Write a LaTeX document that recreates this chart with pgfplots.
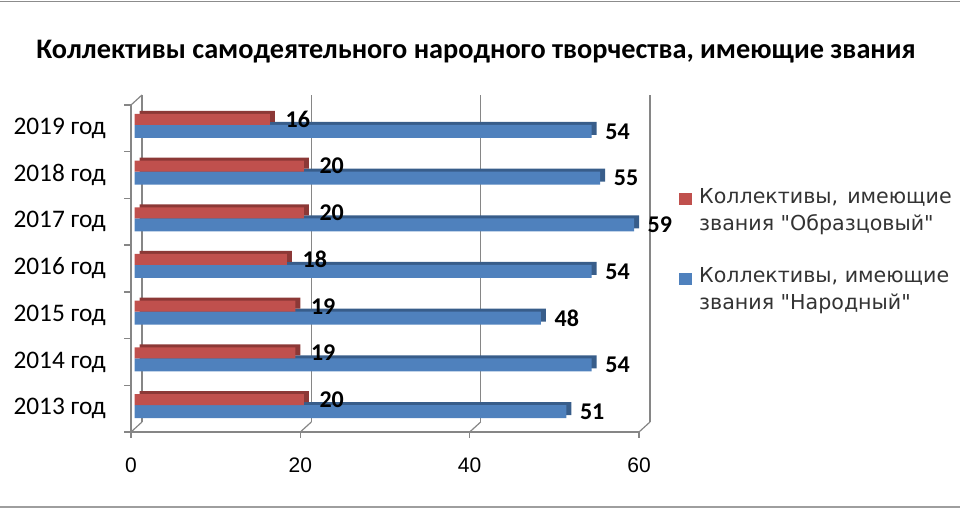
\documentclass[border=0pt]{standalone}
\usepackage{pgfplots}
\pgfplotsset{compat=1.18}
\usepackage{pgfplotstable}
\usepackage{fontspec}
\setmainfont{Carlito}
\newfontfamily\lib{Liberation Sans}
\newfontfamily\dej{DejaVu Sans}
\definecolor{myred}{HTML}{C0504D}
\definecolor{myblue}{HTML}{4F81BD}
\definecolor{myreddark}{HTML}{8C3836}
\definecolor{mybluedark}{HTML}{385D8A}
\definecolor{axgray}{HTML}{868686}

\pgfplotstableread{
y red blue
0 20 51
1 19 54
2 19 48
3 18 54
4 20 59
5 20 55
6 16 54
}\data

\begin{document}
\begin{tikzpicture}[x=1pt,y=1pt]
\useasboundingbox (0,0) rectangle (960,510);
\draw[color=black!45, line width=1.2pt] (0,508.5) -- (960,508.5);
\draw[color=black!38, line width=2.5pt] (0,3) -- (960,3);
\node[font=\fontsize{28.3}{32}\selectfont\bfseries, anchor=base] at (476,451) {Коллективы самодеятельного народного творчества, имеющие звания};
\begin{axis}[
  at={(131pt,78pt)}, anchor=south west,
  scale only axis, width=508pt, height=327pt,
  xmin=0, xmax=60, ymin=-0.5, ymax=6.5,
  xbar, clip=false,
  /pgf/number format/assume math mode=true,
  axis lines*=left,
  axis line style={axgray, line width=1.3pt, -},
  xtick={0,20,40,60},
  ytick={0,...,6},
  yticklabels={2013 год,2014 год,2015 год,2016 год,2017 год,2018 год,2019 год},
  minor ytick={-0.5,0.5,...,6.5},
  tick align=outside,
  major tick length=6pt, minor tick length=7pt,
  tick style={axgray, line width=1.3pt},
  major y tick style={draw=none},
  xmajorgrids,
  major x grid style={axgray, line width=1.2pt, xshift=11pt, yshift=10pt},
  xticklabel style={font=\lib\fontsize{21}{25}\selectfont, inner sep=0pt, yshift=-20pt},
  yticklabel style={font=\fontsize{25.3}{28}\selectfont, inner sep=0pt, xshift=-19pt},
  point meta=x,
  legend style={at={(1,1)}, anchor=north west, xshift=40pt, yshift=-81pt,
    draw=none, fill=none, inner sep=0pt,
    font=\dej\fontsize{20.6}{27}\selectfont, text=black!80,
    cells={anchor=west, align=left}, row sep=32pt, column sep=5pt},
  legend cell align=left,
  reverse legend,
]
% shadows (3D depth)
\addplot[forget plot, draw=none, fill=mybluedark, bar width=13pt, bar shift=-3pt, xshift=8.5pt, yshift=3pt] table[x=blue,y=y]{\data};
\addplot[draw=none, fill=myblue, bar width=13pt, bar shift=-3pt, xshift=3.5pt,
  legend image code/.code={\path[draw=none,fill=none] (0pt,-20pt) -- (0pt,20pt); \fill[myblue] (0pt,4.5pt) rectangle (13pt,16.5pt);},
  nodes near coords, every node near coord/.append style={font=\bfseries\fontsize{24}{28}\selectfont, text=black, inner sep=0pt, anchor=west, xshift=13.5pt}] table[x=blue,y=y]{\data};
\addplot[forget plot, draw=none, fill=myreddark, bar width=11pt, bar shift=9pt, xshift=8.5pt, yshift=3pt] table[x=red,y=y]{\data};
\addplot[draw=none, fill=myred, bar width=11pt, bar shift=9pt, xshift=3.5pt,
  legend image code/.code={\path[draw=none,fill=none] (0pt,-20pt) -- (0pt,20pt); \fill[myred] (0pt,4.5pt) rectangle (13pt,16.5pt);},
  nodes near coords, every node near coord/.append style={font=\bfseries\fontsize{24}{28}\selectfont, text=black, inner sep=0pt, anchor=west, xshift=15.5pt}] table[x=red,y=y]{\data};
\legend{{Коллективы, имеющие\\звания "Народный"},{Коллективы,\hspace{2.5pt} имеющие\\звания "Образцовый"}}
\draw[axgray, line width=1.2pt] (axis cs:0,-0.5) -- ++(11pt,10pt);
\draw[axgray, line width=1.2pt] (axis cs:20,-0.5) -- ++(11pt,10pt);
\draw[axgray, line width=1.2pt] (axis cs:40,-0.5) -- ++(11pt,10pt);
\draw[axgray, line width=1.2pt] (axis cs:60,-0.5) -- ++(11pt,10pt);
\draw[axgray, line width=1.2pt] (axis cs:0,6.5) -- ++(11pt,10pt);
\end{axis}
\end{tikzpicture}
\end{document}
